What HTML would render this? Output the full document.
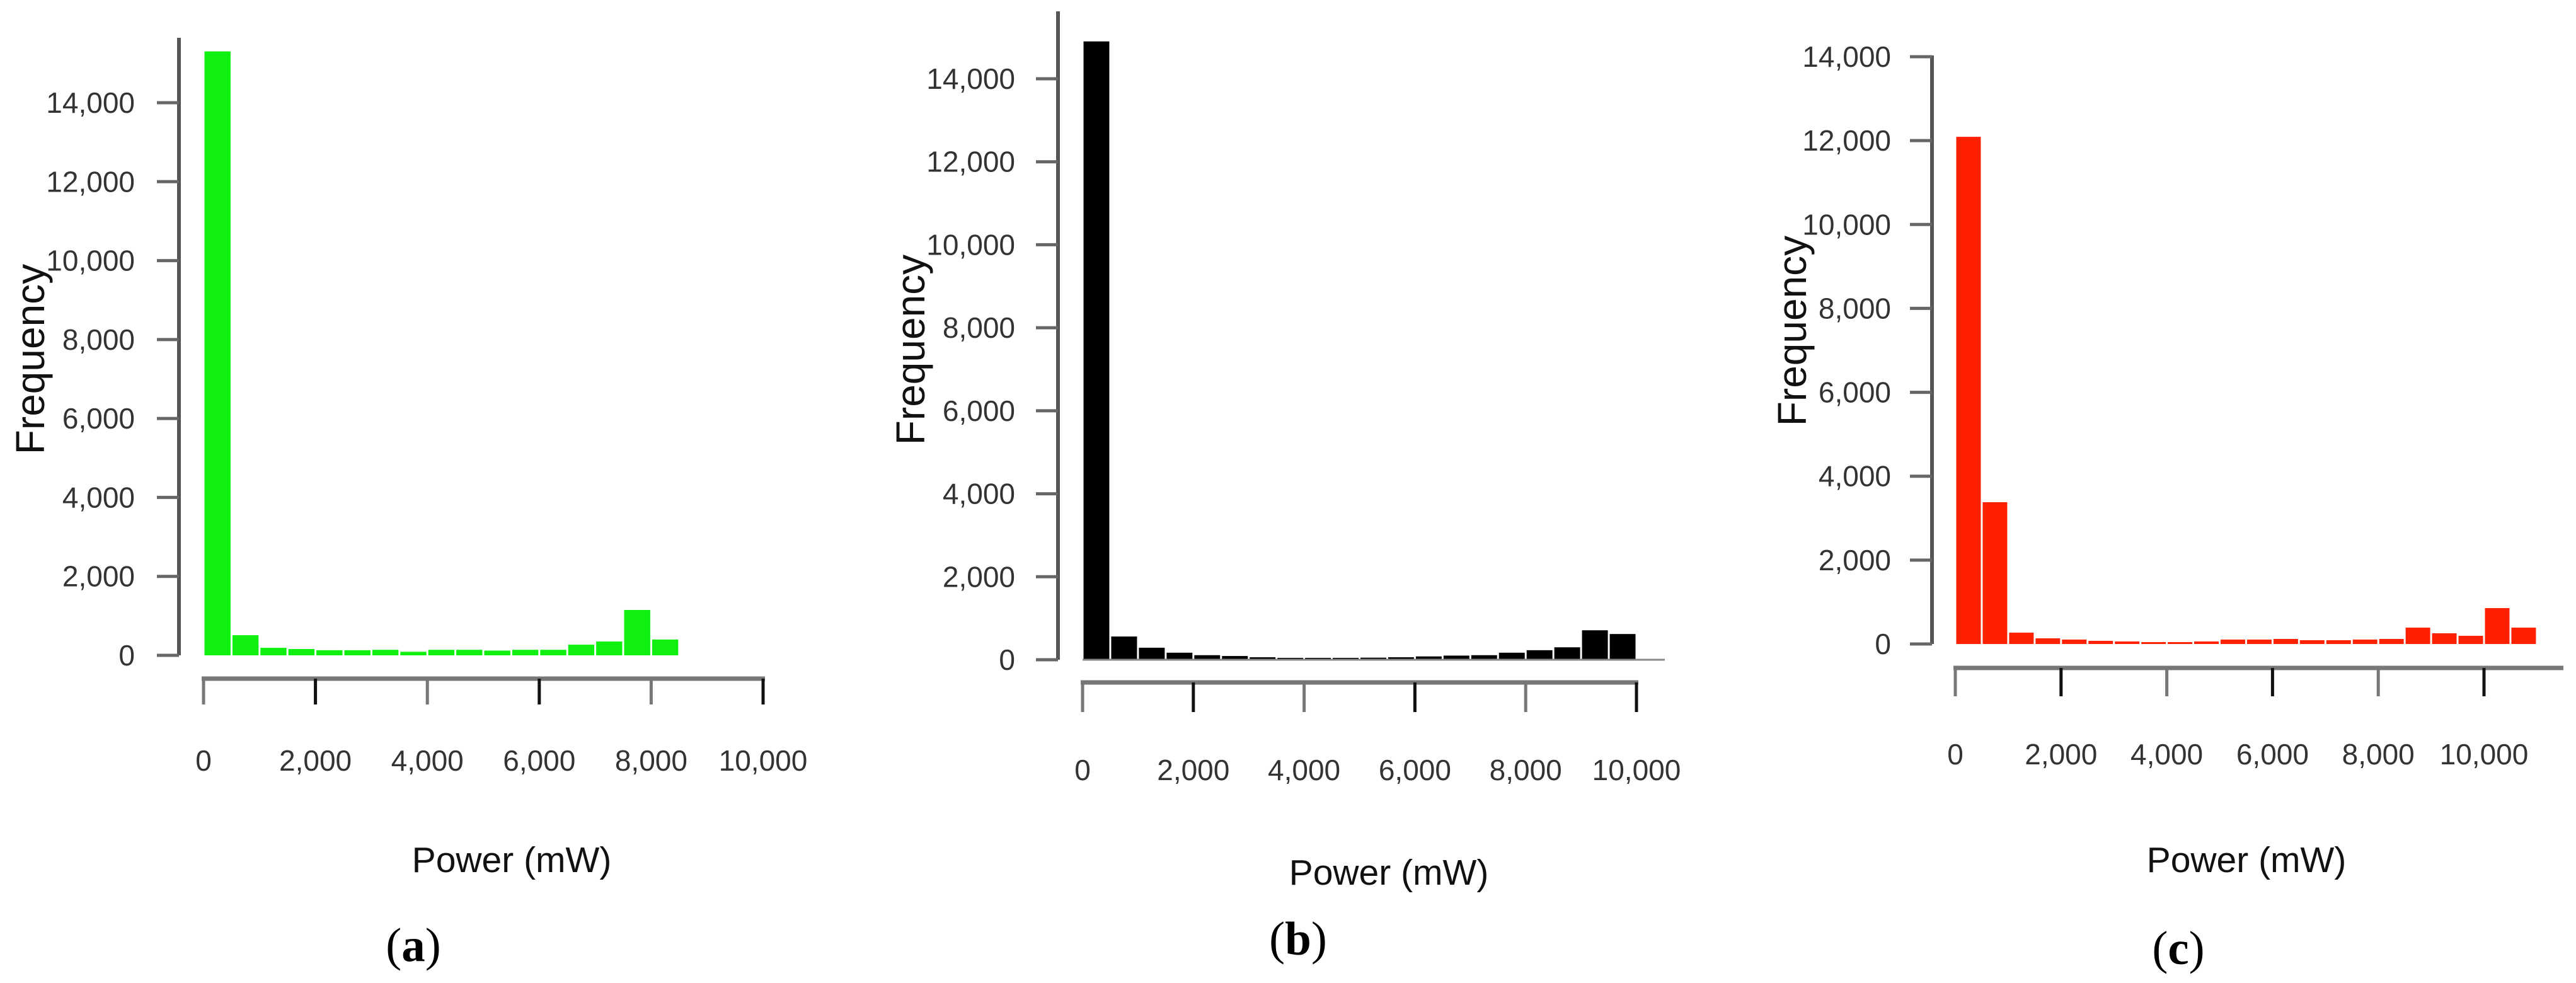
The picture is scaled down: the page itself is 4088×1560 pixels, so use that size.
<!DOCTYPE html>
<html><head><meta charset="utf-8"><style>
html,body{margin:0;padding:0;background:#fff;}
svg{display:block;}
text{font-family:"Liberation Sans",sans-serif;}
</style></head><body>
<svg id="fig" width="4088" height="1560" viewBox="0 0 4088 1560" xmlns="http://www.w3.org/2000/svg"></svg>
<script>
// Panel data: bin counts (bin width 500 mW)
const countsA = [15300,510,190,160,130,130,140,90,140,140,120,140,140,270,350,1150,400];
const countsB = [14900,560,290,170,110,90,60,45,45,45,50,60,80,100,110,170,230,300,710,620];
const countsC = [12090,3380,270,135,105,75,60,45,45,60,105,105,120,90,90,105,120,390,255,195,856,390];
const binWidth = 500;
const yTicks = [0,2000,4000,6000,8000,10000,12000,14000];
const xTicksAB = [0,2000,4000,6000,8000,10000];
const xTicksC = [0,2000,4000,6000,8000,10000];
const panelLabels = ["a","b","c"];

const panels = [
  {id:"a",counts:countsA,color:"#10f010",xTicks:xTicksAB,
   yAxisX:284,yTop:60,y0:1040,y14:163,yLabelRight:214,
   x0:323,x10:1211,xAxisY:1077,xTickEnd:1118,xLabY:1207,xAxisEnd:1211,
   powerX:812,powerY:1365,capX:656,capY:1500,freqX:48,freqY:570,baseline:null},
  {id:"b",counts:countsB,color:"#000000",xTicks:xTicksAB,
   yAxisX:1679,yTop:18,y0:1047,y14:125,yLabelRight:1611,
   x0:1718,x10:2597,xAxisY:1083,xTickEnd:1130,xLabY:1222,xAxisEnd:2597,
   powerX:2204,powerY:1385,capX:2060,capY:1490,freqX:1445,freqY:555,baseline:2642},
  {id:"c",counts:countsC,color:"#ff2000",xTicks:xTicksC,
   yAxisX:3066,yTop:88,y0:1022,y14:90,yLabelRight:3001,
   x0:3103,x10:3942,xAxisY:1060,xTickEnd:1105,xLabY:1197,xAxisEnd:4065,
   powerX:3565,powerY:1365,capX:3457,capY:1505,freqX:2844,freqY:525,baseline:null}
];

const NS="http://www.w3.org/2000/svg";
const svg=document.getElementById('fig');
function mk(tag,attrs,parent){const e=document.createElementNS(NS,tag);for(const k in attrs)e.setAttribute(k,attrs[k]);(parent||svg).appendChild(e);return e;}
function fmt(v){return v.toLocaleString('en-US');}

panels.forEach((p,pi)=>{
  const g=mk('g',{});
  
  
  const yS=v=>p.y0-(v/14000)*(p.y0-p.y14);
  const xS=v=>p.x0+(v/10000)*(p.x10-p.x0);
  p.counts.forEach((c,i)=>{
    const xa=xS(i*binWidth), xb=xS((i+1)*binWidth);
    const r=mk('rect',{x:xa+1.5,y:yS(c),width:xb-xa-3,height:Math.max(p.y0-yS(c),1),fill:p.color},g);
    
    
  });
  if(p.baseline){
    const bl=mk('line',{x1:xS(0),x2:p.baseline,y1:p.y0,y2:p.y0,stroke:'#888','stroke-width':3},g);
    
    
  }
  const ya=mk('line',{x1:p.yAxisX,x2:p.yAxisX,y1:p.yTop,y2:p.y0,stroke:'#555','stroke-width':6},g);
  
  
  yTicks.forEach(t=>{
    const yy=yS(t);
    mk('line',{x1:p.yAxisX-35,x2:p.yAxisX,y1:yy,y2:yy,stroke:'#666','stroke-width':5},g);
    const tl=mk('text',{x:p.yLabelRight,y:yy,'text-anchor':'end','dominant-baseline':'central','font-size':46,fill:'#333'},g);
    tl.textContent=fmt(t);
    
    
  });
  const xa=mk('line',{x1:xS(0)-3,x2:p.xAxisEnd+3,y1:p.xAxisY,y2:p.xAxisY,stroke:'#777','stroke-width':7},g);
  
  
  p.xTicks.forEach((t,i)=>{
    const xx=xS(t);
    mk('line',{x1:xx,x2:xx,y1:p.xAxisY,y2:p.xTickEnd,stroke:i%2?'#111':'#777','stroke-width':5},g);
    const tl=mk('text',{x:xx,y:p.xLabY,'text-anchor':'middle','dominant-baseline':'central','font-size':46,fill:'#333'},g);
    tl.textContent=fmt(t);
    
    
  });
  const xt=mk('text',{x:p.powerX,y:p.powerY,'text-anchor':'middle','dominant-baseline':'central','font-size':57,fill:'#111'},g);
  xt.textContent='Power (mW)';
  
  
  const yt=mk('text',{x:p.freqX,y:p.freqY,'text-anchor':'middle','dominant-baseline':'central','font-size':64,fill:'#111',transform:`rotate(-90 ${p.freqX} ${p.freqY})`},g);
  yt.textContent='Frequency';
  
  
  const cap=mk('text',{x:p.capX,y:p.capY,'text-anchor':'middle','dominant-baseline':'central','font-size':75,fill:'#000',style:'font-family:"Liberation Serif",serif'},g);
  cap.innerHTML='(<tspan font-weight="bold">'+panelLabels[pi]+'</tspan>)';
  
  
});
</script>
</body></html>
